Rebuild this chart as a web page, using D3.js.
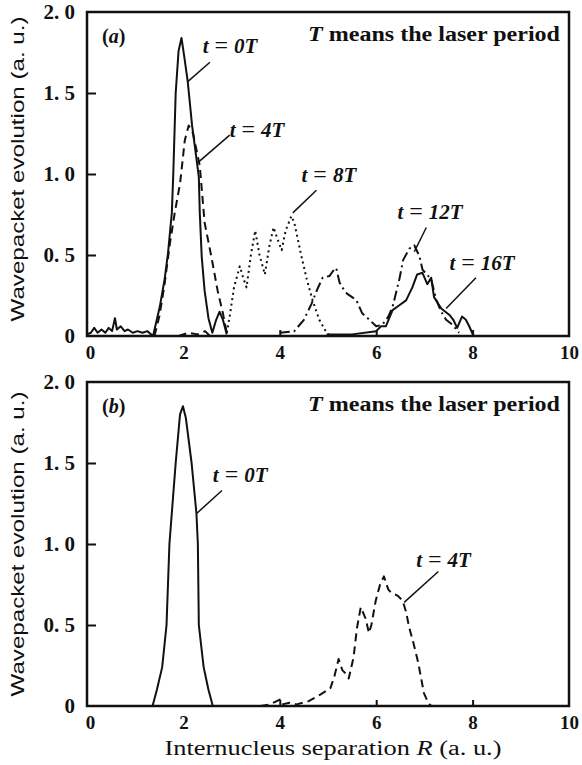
<!DOCTYPE html>
<html>
<head>
  <meta charset="utf-8">
  <title>Wavepacket evolution</title>
  <script src="https://cdn.jsdelivr.net/npm/d3@7/dist/d3.min.js"></script>
  <style>
    html, body { margin: 0; padding: 0; background: #fff; }
    svg { display: block; }
    .tick text { font-family: "Liberation Serif", "Times New Roman", serif; font-weight: bold; fill: #111; }
    .tick line { stroke: #111; stroke-width: 2px; }
    .domain { display: none; }
    .curve { fill: none; stroke: #111; stroke-width: 2px; stroke-linejoin: round; }
    .leader { stroke: #111; stroke-width: 1.5px; }
    .ann { font-family: "Liberation Serif", "Times New Roman", serif; font-style: italic; font-weight: bold; font-size: 21px; fill: #111; }
    .note { font-family: "Liberation Serif", "Times New Roman", serif; font-weight: bold; font-size: 20px; fill: #111; }
    .ytitle { font-family: "Liberation Sans", Arial, sans-serif; font-size: 19px; fill: #111; }
    .xtitle { font-family: "Liberation Serif", "Times New Roman", serif; font-size: 20px; fill: #111; }
  </style>
</head>
<body>
  <svg class="svg" width="582" height="765"></svg>
  <script>
    // axes
    var xTicks = [0, 2, 4, 6, 8, 10];
    var yTicks = [0, 0.5, 1, 1.5, 2];
    var yTickLabels = ["0", "0. 5", "1. 0", "1. 5", "2. 0"];

    // panel (a)
    var a_t0 = [[0, 0.01], [0.08, 0.02], [0.15, 0.05], [0.22, 0.02], [0.3, 0.04], [0.38, 0.02], [0.45, 0.05], [0.52, 0.03],
      [0.58, 0.11], [0.62, 0.04], [0.7, 0.06], [0.78, 0.03], [0.85, 0.04], [0.95, 0.02], [1.05, 0.03], [1.15, 0.02],
      [1.25, 0.03], [1.37, 0.0], [1.51, 0.18], [1.61, 0.35], [1.68, 0.51], [1.76, 0.76], [1.79, 1.0], [1.84, 1.5],
      [1.9, 1.76], [1.96, 1.84], [2.02, 1.72], [2.09, 1.57], [2.18, 1.3], [2.26, 1.12], [2.32, 0.98], [2.34, 0.76],
      [2.38, 0.49], [2.44, 0.28], [2.52, 0.11], [2.6, 0.02], [2.68, 0.1], [2.75, 0.15], [2.82, 0.1], [2.9, 0.01]];
    var a_t4tail = [[1.9, 0.0], [2.1, 0.02], [2.3, 0.01], [2.45, 0.03], [2.55, 0.0]];
    var a_t4 = [[1.4, 0.0], [1.5, 0.12], [1.6, 0.3], [1.72, 0.57], [1.82, 0.76], [1.93, 0.94], [2.03, 1.21],
      [2.11, 1.3], [2.2, 1.25], [2.34, 1.05], [2.44, 0.7], [2.58, 0.49], [2.71, 0.28], [2.82, 0.14], [2.9, 0.02]];
    var a_t8 = [[2.9, 0.02], [2.96, 0.12], [3.05, 0.3], [3.17, 0.43], [3.24, 0.36], [3.31, 0.3], [3.4, 0.5], [3.49, 0.65],
      [3.58, 0.5], [3.69, 0.38], [3.78, 0.55], [3.87, 0.67], [3.95, 0.6], [4.04, 0.53], [4.12, 0.65], [4.24, 0.74],
      [4.3, 0.7], [4.45, 0.49], [4.56, 0.35], [4.68, 0.22], [4.82, 0.1], [4.97, 0.02], [5.05, 0]];
    var a_t12 = [[4.0, 0.02], [4.3, 0.03], [4.5, 0.1], [4.66, 0.2], [4.78, 0.29], [4.89, 0.36], [5.03, 0.37], [5.1, 0.4],
      [5.17, 0.42], [5.24, 0.33], [5.34, 0.28], [5.4, 0.26], [5.5, 0.24], [5.59, 0.22], [5.71, 0.14], [5.86, 0.1],
      [6.0, 0.06], [6.13, 0.07], [6.25, 0.12], [6.34, 0.18], [6.48, 0.35], [6.56, 0.47], [6.69, 0.54], [6.79, 0.56],
      [6.9, 0.49], [6.96, 0.41], [7.05, 0.38], [7.14, 0.35], [7.25, 0.22], [7.35, 0.15], [7.45, 0.1], [7.58, 0.07], [7.72, 0.02]];
    var a_t16 = [[4.97, 0.01], [5.5, 0.01], [6.0, 0.03], [6.1, 0.06], [6.2, 0.06], [6.34, 0.16], [6.48, 0.19], [6.62, 0.22],
      [6.75, 0.3], [6.85, 0.38], [6.96, 0.39], [7.06, 0.32], [7.14, 0.36], [7.2, 0.24], [7.35, 0.17], [7.52, 0.13],
      [7.6, 0.1], [7.68, 0.05], [7.78, 0.12], [7.86, 0.1], [7.93, 0.06], [8.02, 0]];

    // panel (b)
    var b_t0 = [[1.36, 0], [1.45, 0.1], [1.56, 0.24], [1.65, 0.5], [1.71, 1.0], [1.84, 1.5], [1.93, 1.8], [1.99, 1.85],
      [2.05, 1.78], [2.17, 1.5], [2.27, 1.19], [2.3, 1.0], [2.32, 0.5], [2.42, 0.24], [2.52, 0.1], [2.61, 0]];
    var b_t4 = [[3.6, 0], [3.8, 0.01], [4.0, 0.04], [4.05, 0.01], [4.2, 0.02], [4.35, 0.01], [4.6, 0.03], [4.84, 0.07],
      [5.05, 0.11], [5.13, 0.18], [5.22, 0.29], [5.3, 0.22], [5.37, 0.2], [5.43, 0.17], [5.53, 0.3], [5.6, 0.48],
      [5.68, 0.61], [5.78, 0.54], [5.85, 0.45], [5.9, 0.5], [5.99, 0.65], [6.08, 0.75], [6.16, 0.8], [6.25, 0.72],
      [6.31, 0.7], [6.45, 0.68], [6.55, 0.65], [6.62, 0.58], [6.68, 0.49], [6.78, 0.38], [6.87, 0.27], [6.99, 0.08],
      [7.08, 0.02], [7.14, 0]];

    // labels: text, text x/y, leader from, leader to (data units)
    var a_labels = [
      ["0T", 2.40, 1.75, 2.55, 1.69, 2.09, 1.57],
      ["4T", 2.96, 1.23, 2.96, 1.24, 2.30, 1.07],
      ["8T", 4.45, 0.95, 4.76, 0.90, 4.27, 0.76],
      ["12T", 6.44, 0.72, 7.04, 0.67, 6.79, 0.52],
      ["16T", 7.52, 0.41, 8.07, 0.36, 7.45, 0.17]
    ];
    var b_labels = [
      ["0T", 2.61, 1.38, 2.80, 1.33, 2.28, 1.19],
      ["4T", 6.83, 0.86, 7.29, 0.83, 6.58, 0.64]
    ];

    var svg = d3.select('.svg');
    var width = 482, height = 324;

    var dashed = "8,5", dotted = "2,3.5", dashDot = "10,4,2,4";

    function drawPanel(left, top, tag, series, labels) {
      var g = svg.append("g").attr("transform", "translate(" + left + "," + top + ")");
      var x = d3.scaleLinear().domain([0, 10]).range([0, width]);
      var y = d3.scaleLinear().domain([0, 2]).range([height, 0]);

      g.append("g")
        .attr("transform", "translate(0," + height + ")")
        .call(d3.axisBottom(x).tickValues(xTicks).tickSizeInner(-6).tickSizeOuter(0).tickPadding(10))
        .selectAll("text").attr("font-size", 19).attr("dx", d => d == 0 ? 3 : 0);

      g.append("g")
        .call(d3.axisLeft(y).tickValues(yTicks).tickSizeInner(-9).tickSizeOuter(0).tickPadding(12)
          .tickFormat((d, i) => yTickLabels[i]))
        .selectAll("text").attr("font-size", 21);

      g.selectAll(".tick").filter(d => d == 0 || d == 2 || d == 10).select("line").remove();

      g.append("rect")
        .attr("width", width).attr("height", height)
        .attr("fill", "none").attr("stroke", "#111").attr("stroke-width", 2.5);

      var line = d3.line().x(d => x(d[0])).y(d => y(d[1]));

      series.forEach(function (s) {
        g.append("path")
          .datum(s.data)
          .attr("class", "curve")
          .attr("stroke-dasharray", s.dash)
          .attr("d", line);
      });

      labels.forEach(function (l) {
        g.append("line").attr("class", "leader")
          .attr("x1", x(l[3])).attr("y1", y(l[4]))
          .attr("x2", x(l[5])).attr("y2", y(l[6]));
        var t = g.append("text").attr("class", "ann")
          .attr("x", x(l[1])).attr("y", y(l[2]));
        t.append("tspan").text("t");
        t.append("tspan").attr("dx", 6).attr("font-style", "normal").attr("font-weight", "normal")
          .attr("font-size", 24).text("=");
        t.append("tspan").attr("dx", 6).text(l[0]);
      });

      g.append("text").attr("class", "note")
        .attr("x", 15).attr("y", 31)
        .html('(<tspan font-style="italic">' + tag + '</tspan>)');

      g.append("text").attr("class", "note")
        .attr("x", width - 9).attr("y", 29).attr("text-anchor", "end")
        .attr("textLength", 252).attr("lengthAdjust", "spacingAndGlyphs")
        .html('<tspan font-style="italic">T</tspan> means the laser  period');

      svg.append("text").attr("class", "ytitle")
        .attr("transform", "translate(24," + (top + height / 2 + (tag == "a" ? -5 : 0)) + ") rotate(-90)")
        .attr("text-anchor", "middle")
        .attr("textLength", 305)
        .attr("lengthAdjust", "spacingAndGlyphs")
        .text("Wavepacket evolution (a. u.)");
    }

    drawPanel(87, 12, "a", [
      { data: a_t0, dash: null },
      { data: a_t4, dash: dashed },
      { data: a_t4tail, dash: dashed },
      { data: a_t8, dash: dotted },
      { data: a_t12, dash: dashDot },
      { data: a_t16, dash: null }
    ], a_labels);

    drawPanel(87, 382, "b", [
      { data: b_t0, dash: null },
      { data: b_t4, dash: dashed }
    ], b_labels);

    svg.append("text").attr("class", "xtitle")
      .attr("x", 333).attr("y", 755)
      .attr("text-anchor", "middle")
      .attr("textLength", 337)
      .attr("lengthAdjust", "spacingAndGlyphs")
      .html('Internucleus separation <tspan font-style="italic">R</tspan> (a. u.)');
  </script>
</body>
</html>
